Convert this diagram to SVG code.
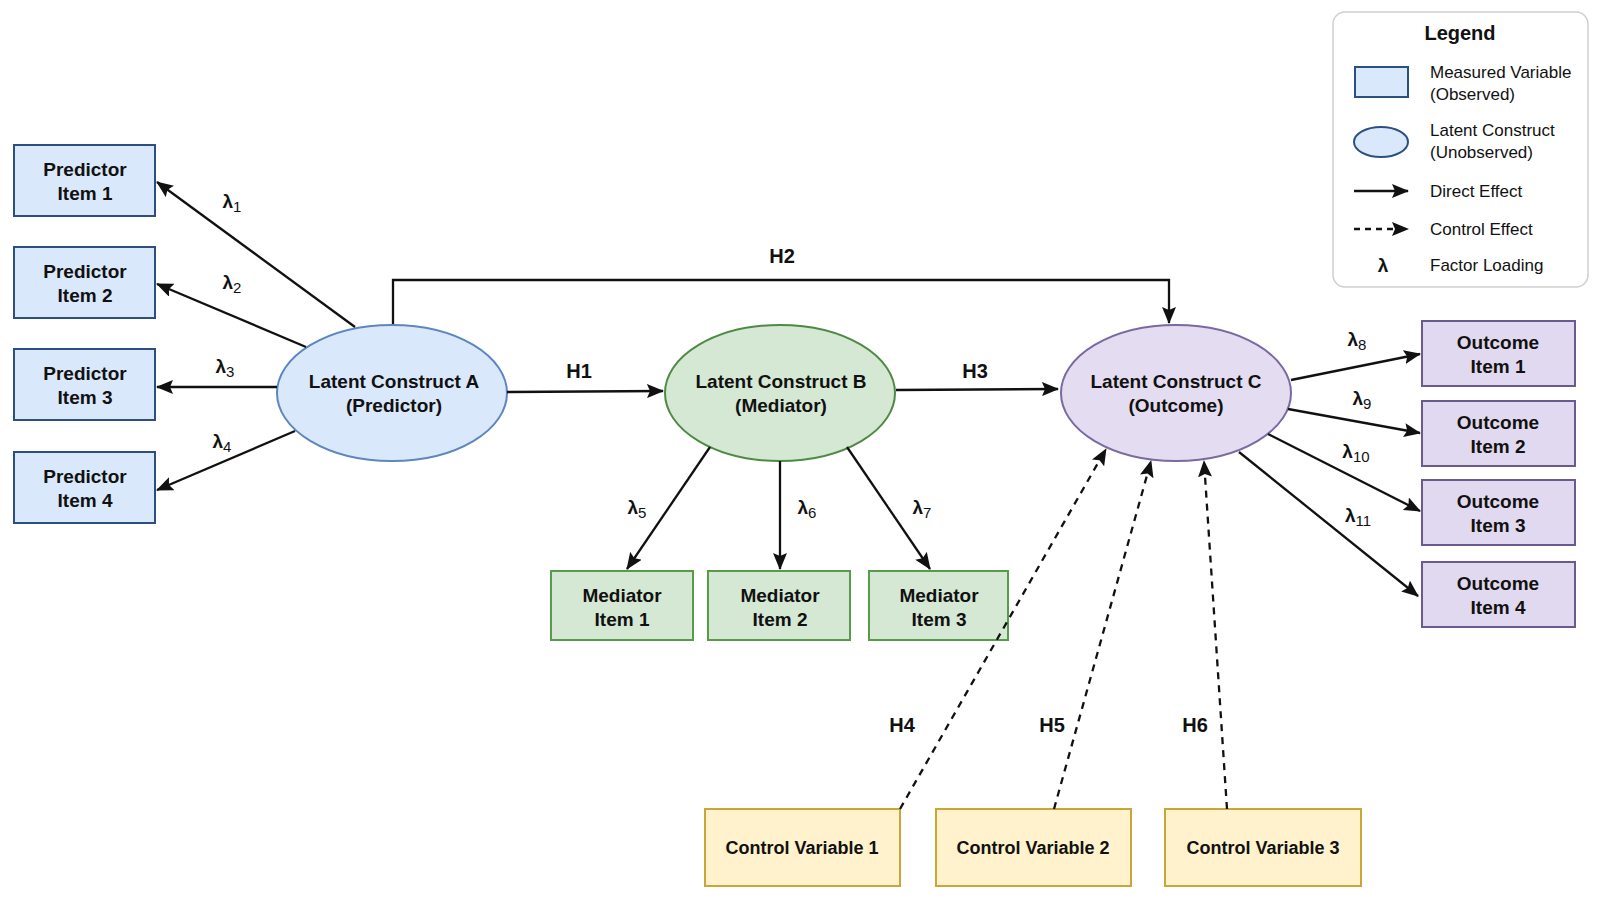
<svg xmlns="http://www.w3.org/2000/svg" width="1600" height="905" viewBox="0 0 1600 905">
<defs>
<marker id="arr" markerUnits="userSpaceOnUse" markerWidth="17" markerHeight="14" refX="16" refY="7" orient="auto">
<path d="M0,0 L17,7 L0,14 L3,7 z" fill="#111"/>
</marker>
<style>
.t{font-family:"Liberation Sans",Arial,sans-serif;font-weight:bold;font-size:19px;fill:#111;text-anchor:middle}
.cv{font-family:"Liberation Sans",Arial,sans-serif;font-weight:bold;font-size:18px;fill:#111;text-anchor:middle}
.h{font-family:"Liberation Sans",Arial,sans-serif;font-weight:bold;font-size:20px;fill:#111;text-anchor:middle}
.lam{font-family:"Liberation Sans",Arial,sans-serif;font-weight:bold;font-size:19px;fill:#111;text-anchor:middle}
.sub{font-size:15px;font-weight:normal}
.lg{font-family:"Liberation Sans",Arial,sans-serif;font-size:17px;fill:#111}
.pb{fill:#dae8fc;stroke:#2c4f80;stroke-width:2}
.pe{fill:#dae8fc;stroke:#5f86bd;stroke-width:2}
.mb{fill:#d5e8d4;stroke:#5a9a4c;stroke-width:2}
.me{fill:#d5e8d4;stroke:#4f8a44;stroke-width:2}
.ob{fill:#e1d9ef;stroke:#6a5a8e;stroke-width:2}
.oe{fill:#e4dcf0;stroke:#7a6aa0;stroke-width:2}
.cb{fill:#fff2cc;stroke:#c9a635;stroke-width:2}
.ln{fill:none;stroke:#111;stroke-width:2.3}
.dl{fill:none;stroke:#111;stroke-width:2.3;stroke-dasharray:7 6}
</style>
</defs>
<rect width="1600" height="905" fill="#ffffff"/>

<g id="pred1"><rect class="pb" x="14" y="145" width="141" height="71"/><text class="t" x="85" y="176">Predictor</text><text class="t" x="85" y="200">Item 1</text></g>
<g id="pred2"><rect class="pb" x="14" y="247" width="141" height="71"/><text class="t" x="85" y="278">Predictor</text><text class="t" x="85" y="302">Item 2</text></g>
<g id="pred3"><rect class="pb" x="14" y="349" width="141" height="71"/><text class="t" x="85" y="380">Predictor</text><text class="t" x="85" y="404">Item 3</text></g>
<g id="pred4"><rect class="pb" x="14" y="452" width="141" height="71"/><text class="t" x="85" y="483">Predictor</text><text class="t" x="85" y="507">Item 4</text></g>

<g id="latentA"><ellipse class="pe" cx="392" cy="393" rx="115" ry="68"/><text class="t" x="394" y="388">Latent Construct A</text><text class="t" x="394" y="412">(Predictor)</text></g>
<g id="latentB"><ellipse class="me" cx="780" cy="393" rx="115" ry="68"/><text class="t" x="781" y="388">Latent Construct B</text><text class="t" x="781" y="412">(Mediator)</text></g>
<g id="latentC"><ellipse class="oe" cx="1176" cy="393" rx="115" ry="68"/><text class="t" x="1176" y="388">Latent Construct C</text><text class="t" x="1176" y="412">(Outcome)</text></g>

<g id="med1"><rect class="mb" x="551" y="571" width="142" height="69"/><text class="t" x="622" y="602">Mediator</text><text class="t" x="622" y="626">Item 1</text></g>
<g id="med2"><rect class="mb" x="708" y="571" width="142" height="69"/><text class="t" x="780" y="602">Mediator</text><text class="t" x="780" y="626">Item 2</text></g>
<g id="med3"><rect class="mb" x="869" y="571" width="139" height="69"/><text class="t" x="939" y="602">Mediator</text><text class="t" x="939" y="626">Item 3</text></g>

<g id="out1"><rect class="ob" x="1422" y="321" width="153" height="65"/><text class="t" x="1498" y="349">Outcome</text><text class="t" x="1498" y="373">Item 1</text></g>
<g id="out2"><rect class="ob" x="1422" y="401" width="153" height="65"/><text class="t" x="1498" y="429">Outcome</text><text class="t" x="1498" y="453">Item 2</text></g>
<g id="out3"><rect class="ob" x="1422" y="480" width="153" height="65"/><text class="t" x="1498" y="508">Outcome</text><text class="t" x="1498" y="532">Item 3</text></g>
<g id="out4"><rect class="ob" x="1422" y="562" width="153" height="65"/><text class="t" x="1498" y="590">Outcome</text><text class="t" x="1498" y="614">Item 4</text></g>

<g id="cv1"><rect class="cb" x="705" y="809" width="195" height="77"/><text class="cv" x="802" y="854">Control Variable 1</text></g>
<g id="cv2"><rect class="cb" x="936" y="809" width="195" height="77"/><text class="cv" x="1033" y="854">Control Variable 2</text></g>
<g id="cv3"><rect class="cb" x="1165" y="809" width="196" height="77"/><text class="cv" x="1263" y="854">Control Variable 3</text></g>

<g id="connectors">
<path class="ln" d="M355,327 L157,182" marker-end="url(#arr)"/>
<path class="ln" d="M306,347 L157,284" marker-end="url(#arr)"/>
<path class="ln" d="M277,387 L157,387" marker-end="url(#arr)"/>
<path class="ln" d="M295,431 L157,490" marker-end="url(#arr)"/>
<path class="ln" d="M507,392 L663,391" marker-end="url(#arr)"/>
<path class="ln" d="M393,324 L393,280 L1169,280 L1169,323" marker-end="url(#arr)"/>
<path class="ln" d="M896,390 L1058,389" marker-end="url(#arr)"/>
<path class="ln" d="M710,447 L627,569" marker-end="url(#arr)"/>
<path class="ln" d="M780,461 L780,569" marker-end="url(#arr)"/>
<path class="ln" d="M847,447 L930,569" marker-end="url(#arr)"/>
<path class="ln" d="M1291,380 L1420,354" marker-end="url(#arr)"/>
<path class="ln" d="M1288,409 L1420,433" marker-end="url(#arr)"/>
<path class="ln" d="M1268,434 L1420,511" marker-end="url(#arr)"/>
<path class="ln" d="M1239,452 L1418,596" marker-end="url(#arr)"/>
<path class="dl" d="M900,809 L1106,449" marker-end="url(#arr)"/>
<path class="dl" d="M1054,809 L1151,461" marker-end="url(#arr)"/>
<path class="dl" d="M1227,809 L1204,461" marker-end="url(#arr)"/>
<text class="lam" x="232" y="208">λ<tspan class="sub" dy="4">1</tspan></text>
<text class="lam" x="232" y="289">λ<tspan class="sub" dy="4">2</tspan></text>
<text class="lam" x="225" y="373">λ<tspan class="sub" dy="4">3</tspan></text>
<text class="lam" x="222" y="448">λ<tspan class="sub" dy="4">4</tspan></text>
<text class="lam" x="637" y="514">λ<tspan class="sub" dy="4">5</tspan></text>
<text class="lam" x="807" y="514">λ<tspan class="sub" dy="4">6</tspan></text>
<text class="lam" x="922" y="514">λ<tspan class="sub" dy="4">7</tspan></text>
<text class="lam" x="1357" y="346">λ<tspan class="sub" dy="4">8</tspan></text>
<text class="lam" x="1362" y="405">λ<tspan class="sub" dy="4">9</tspan></text>
<text class="lam" x="1356" y="458">λ<tspan class="sub" dy="4">10</tspan></text>
<text class="lam" x="1358" y="522">λ<tspan class="sub" dy="4">11</tspan></text>
<text class="h" x="579" y="378">H1</text>
<text class="h" x="782" y="263">H2</text>
<text class="h" x="975" y="378">H3</text>
<text class="h" x="902" y="732">H4</text>
<text class="h" x="1052" y="732">H5</text>
<text class="h" x="1195" y="732">H6</text>
</g>

<g id="legend">
<rect x="1333" y="12" width="255" height="275" rx="12" fill="#ffffff" stroke="#cfcfcf" stroke-width="1.5"/>
<text class="h" x="1460" y="40">Legend</text>
<rect x="1355" y="67" width="53" height="30" fill="#dae8fc" stroke="#2c4f80" stroke-width="2"/>
<text class="lg" x="1430" y="78">Measured Variable</text>
<text class="lg" x="1430" y="100">(Observed)</text>
<ellipse cx="1381" cy="142" rx="27" ry="15" fill="#dae8fc" stroke="#2c4f80" stroke-width="2"/>
<text class="lg" x="1430" y="136">Latent Construct</text>
<text class="lg" x="1430" y="158">(Unobserved)</text>
<path class="ln" d="M1354,191 L1408,191" marker-end="url(#arr)"/>
<text class="lg" x="1430" y="197">Direct Effect</text>
<path class="ln" d="M1354,229 L1408,229" stroke-dasharray="6 5" marker-end="url(#arr)"/>
<text class="lg" x="1430" y="235">Control Effect</text>
<text class="lam" x="1383" y="272">λ</text>
<text class="lg" x="1430" y="271">Factor Loading</text>
</g>
</svg>
